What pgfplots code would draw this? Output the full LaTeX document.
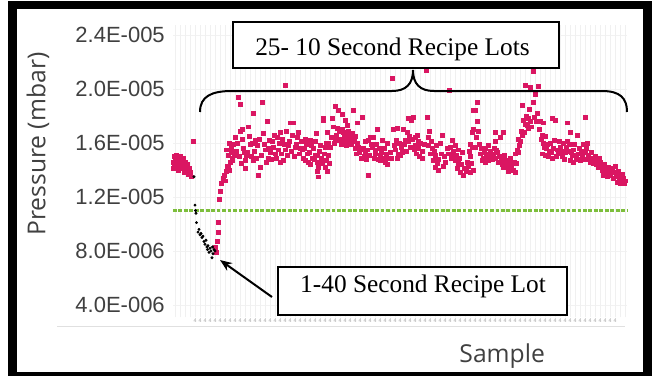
\documentclass[border=0pt]{standalone}
\usepackage{fontspec}
\setmainfont{Liberation Serif}
\newfontfamily\tickfont{Liberation Sans}
\newfontfamily\labfont{Open Sans}
\usepackage{pgfplots}
\pgfplotsset{compat=1.18}
\usetikzlibrary{arrows.meta}
\definecolor{pk}{RGB}{218,22,98}
\definecolor{gr}{RGB}{125,190,60}
\definecolor{tk}{RGB}{64,64,64}

\pgfplotstableread{
x y
173 14.6
173.5 14.1
174 15.0
174.5 14.4
175 14.8
176 14.2
176.5 15.1
177 14.5
178 14.9
178.5 14.0
179 14.6
180 14.3
180.5 15.0
181 14.7
182 14.1
182.5 14.5
183 14.9
184 14.3
184.5 13.8
185 14.6
186 14.2
187 14.0
187.5 14.4
188 13.7
189 14.1
190 13.8
191 13.5
193 16.1
215 8.3
216 7.9
217 8.7
218 9.4
218.5 10.1
219 11.8
220 12.4
221.5 13.0
223 13.4
224 13.6
225 13.2
226 13.9
226 15.5
227 14.3
228 14.2
228 15.1
229 14.0
229 16.0
230 14.6
231 15.3
231 15.6
232 14.7
232.5 14.9
233 15.9
234 15.2
235 15.1
235.5 16.4
236 15.4
237 16.0
238 19.4
239 15.0
240 18.9
240 16.9
241 14.5
242 16.3
242 17.0
243 15.6
244 15.3
245 14.7
245 14.1
246 15.1
247 15.3
248 17.2
249 16.5
250 15.9
251 15.0
252 16.0
253 18.2
253 14.7
254 15.4
255 16.2
256 14.9
257 15.8
258 13.6
259 16.3
260 14.2
261 15.1
262 19.0
263 16.7
264 15.9
265 15.5
266 14.6
267 17.6
268 15.6
268 14.9
269 16.2
270 15.3
271 14.8
272 16.1
273 15.7
274 16.6
275 15.2
276 14.9
277 16.4
278 15.5
279 16.0
280 16.8
280 14.6
281 15.2
282 16.3
283 14.7
284 15.9
285 20.3
285 15.5
286 16.9
287 15.1
288 15.8
289 16.1
290 17.5
291 15.4
292 16.6
293 17.5
294 15.0
295 15.7
296 15.9
297 16.4
298 16.8
299 15.2
300 15.6
301 16.1
302 15.5
303 14.9
304 15.6
305 16.3
305 14.7
306 15.9
307 15.2
308 14.6
309 15.3
310 16.2
310 14.4
311 15.8
312 14.9
313 15.6
314 14.8
315 16.1
315 15.1
316 16.7
317 15.1
317 14.6
317 13.9
318 13.5
318 14.2
319 15.4
320 15.8
321 14.9
322 14.5
323 17.8
323 17.7
324 15.2
325 15.7
325 14.2
326 16.0
326 14.7
327 13.9
327 16.8
328 15.1
328 16.0
329 14.5
330 15.7
331 16.4
332 17.8
333 17.2
334 16.0
335 18.7
335 16.3
336 16.6
337 17.1
337 16.2
338 18.4
339 16.9
340 16.3
341 15.9
342 17.0
342 18.1
343 16.8
344 16.4
345 17.7
345 16.1
346 15.8
347 17.3
347 16.6
348 16.9
349 16.2
350 16.4
351 15.9
352 16.7
353 18.4
354 16.1
355 16.5
355 15.6
356 15.2
357 17.5
357 16.0
358 15.7
359 15.3
360 15.5
361 14.9
362 17.9
363 15.6
364 15.0
365 15.3
365 16.1
366 14.8
367 15.5
368 16.2
368 13.6
369 15.1
370 16.4
371 15.9
372 15.7
373 16.4
374 14.9
375 15.5
375 15.2
376 15.9
377 17.0
378 14.8
379 15.6
380 15.1
380 14.7
381 15.3
382 16.2
383 14.9
384 15.6
385 14.6
386 15.2
387 14.4
387 16.0
388 14.9
390 15.3
391 14.9
392 20.8
393 17.0
394 15.8
395 15.5
396 16.2
397 17.1
397 14.9
398 15.2
399 16.0
400 15.1
401 15.7
402 15.3
403 17.0
404 15.9
405 16.2
406 15.4
407 16.8
408 17.8
408 16.1
409 16.5
410 15.7
411 17.7
412 16.3
413 17.9
414 15.5
415 16.4
415 15.8
416 15.2
417 16.6
418 16.1
418 15.6
419 15.0
420 16.0
422 15.4
422 14.9
424 15.9
426 21.4
427 17.9
428 16.4
428 15.8
429 16.9
430 15.2
431 16.1
432 15.6
433 14.7
434 15.4
435 15.1
435 14.2
436 15.8
437 14.5
438 14.8
438 14.0
440 16.0
441 15.2
442 16.6
443 14.3
444 15.0
445 14.6
447 15.6
448 15.2
449 19.9
450 15.7
451 14.9
452 15.0
452 16.2
453 15.4
455 15.8
455 14.7
456 15.1
457 14.1
458 15.5
458 14.5
459 14.9
460 13.8
461 14.4
462 15.3
463 13.6
464 14.1
466 13.9
467 14.6
468 14.3
469 15.4
470 15.0
470 15.9
470 13.8
471 14.5
472 16.8
472 15.7
473 18.4
473 17.0
473 14.0
475 18.4
475 15.7
476 16.4
477 19.0
477 17.6
478 16.9
479 15.9
480 15.2
481 15.6
482 14.7
483 14.9
484 15.3
485 15.6
485 14.6
486 15.0
487 15.1
488 15.8
488 14.7
489 15.2
490 15.4
491 14.9
492 14.8
493 15.2
494 15.6
495 14.9
495 16.8
495 16.1
496 15.5
497 15.3
498 14.6
499 15.0
500 16.4
501 14.8
502 14.4
503 16.8
503 14.2
504 15.1
505 14.7
506 14.3
507 14.4
508 13.9
509 14.6
510 14.9
511 14.2
512 14.5
513 14.0
514 14.6
515 13.8
515 15.2
516 14.5
517 15.5
518 15.3
518 16.3
519 15.8
520 16.1
521 16.9
522 16.6
522 18.8
523 17.7
524 16.8
525 17.4
525 20.3
526 18.0
527 17.3
528 17.8
528 17.1
529 18.5
530 17.6
530 20.1
531 17.2
533 21.3
533 19.0
534 17.9
535 19.6
536 17.6
537 18.2
538 20.2
539 17.0
540 17.6
541 16.3
542 16.6
542 15.2
543 17.5
543 16.0
544 15.7
545 16.5
545 15.1
546 15.6
547 15.9
548 15.0
549 15.4
550 16.0
551 15.3
552 17.8
552 14.9
553 15.6
554 16.2
555 17.7
556 15.0
557 15.5
558 15.2
559 16.1
560 15.7
561 15.4
562 15.0
563 16.0
564 14.8
565 15.3
566 15.7
567 17.5
567 16.1
568 15.4
569 15.9
570 16.8
570 14.7
571 15.3
572 15.1
573 15.5
573 14.6
574 15.9
575 15.1
576 14.9
577 16.6
577 14.8
578 15.2
579 15.6
580 14.7
581 15.4
582 15.0
583 15.9
584 14.8
585 17.9
585 15.3
586 15.6
587 16.0
588 15.1
589 14.8
590 14.6
591 15.3
592 14.9
593 14.5
594 14.8
595 15.0
596 14.4
597 14.7
598 14.2
599 14.9
600 14.6
601 14.3
602 14.0
603 13.6
604 14.4
605 14.1
606 13.8
607 13.5
608 14.2
609 13.9
610 13.6
611 14.1
612 14.0
613 13.4
614 13.8
615 14.3
616 13.7
617 13.5
617 13.1
618 13.9
619 13.4
620 13.6
620 13.0
621 13.3
622 13.7
623 13.1
623 13.4
624 13.0
625 13.2
}\pinkdata

\pgfplotstableread{
x y
194 13.5
195 11.4
195.5 11.0
196 10.8
196.5 10.1
198 9.4
199 9.6
200 9.2
201 9.3
202 9.0
203 9.1
204 8.7
205 8.5
206 8.8
207 8.3
207.5 8.1
208 8.4
209 7.9
210 8.2
211 8.0
212 7.5
212.5 8.3
213 7.8
214 8.1
215 8.0
}\blackdata

\begin{document}
\begin{tikzpicture}
\begin{scope}[x=0.75pt,y=-0.75pt]
\fill[white] (0,0) rectangle (652,376);
\fill[black] (8,1) rectangle (652,376);
\fill[white] (17,9) rectangle (642.5,371.5);
\draw[black!12, line width=0.8pt] (57,326.5) -- (625,326.5);
\end{scope}
\begin{axis}[
  at={(129.75pt,-237.75pt)}, anchor=south west,
  scale only axis, width=340.5pt, height=219pt,
  xmin=173, xmax=627, ymin=3.11, ymax=24.74,
  axis line style={draw=none},
  major tick length=0pt,
  ytick={4,8,12,16,20,24},
  yticklabels={4.0E-006,8.0E-006,1.2E-005,1.6E-005,2.0E-005,2.4E-005},
  yticklabel style={font=\tickfont\fontsize{16.5}{16.5}\selectfont, text=tk, anchor=east, inner sep=0pt, xshift=-6pt},
  ymajorgrids, major grid style={draw=black!5},
  xtick={195,200,...,615},
  xticklabel={4},
  xticklabel style={font=\tickfont\fontsize{4}{4}\selectfont, text=black!35, inner sep=0pt, yshift=-1.5pt},
  extra x ticks={175,180,...,625},
  extra x tick labels={},
  extra x tick style={grid=major, major grid style={draw=black!6}},
  xlabel={Sample},
  xlabel style={font=\labfont\fontsize{18.5}{18.5}\selectfont, text=tk, at={(axis description cs:0.725,0)}, anchor=base, yshift=-33.75pt},
  ylabel={Pressure (mbar)},
  ylabel style={font=\labfont\fontsize{18.5}{18.5}\selectfont, text=tk, at={(axis description cs:-0.2974,0.592)}, anchor=center},
  clip=false,
]
\addplot[gr, line width=1.6pt, dash pattern=on 2.8pt off 1.3pt] coordinates {(173,11.0) (627,11.0)};
\addplot[only marks, mark=square*, mark size=1.45pt, color=pk] table[x=x,y=y] {\pinkdata};
\addplot[only marks, mark=*, mark size=0.9pt, color=black] table[x=x,y=y] {\blackdata};
\end{axis}
\begin{scope}[x=0.75pt,y=-0.75pt]
\draw[line width=1.5pt] (200,112) .. controls (200,96) and (212,91) .. (232,91) -- (392,91) .. controls (406,91) and (413,84) .. (413,70) .. controls (413,84) and (420,91) .. (434,91) -- (602,91) .. controls (620,91) and (627,98) .. (627,112);
\draw[line width=1.5pt, fill=white] (233,22) rectangle (559,68);
\node[anchor=base, inner sep=0pt, font=\fontsize{19}{19}\selectfont] at (392.5,55) {25- 10 Second Recipe Lots};
\draw[line width=1.5pt, fill=white] (278,267) rectangle (567,315);
\node[anchor=base, inner sep=0pt, font=\fontsize{19}{19}\selectfont] at (423,292) {1-40 Second Recipe Lot};
\draw[line width=1.5pt, -{Stealth[length=9pt,width=7pt]}] (272,297) -- (220,260);
\end{scope}
\end{tikzpicture}
\end{document}
